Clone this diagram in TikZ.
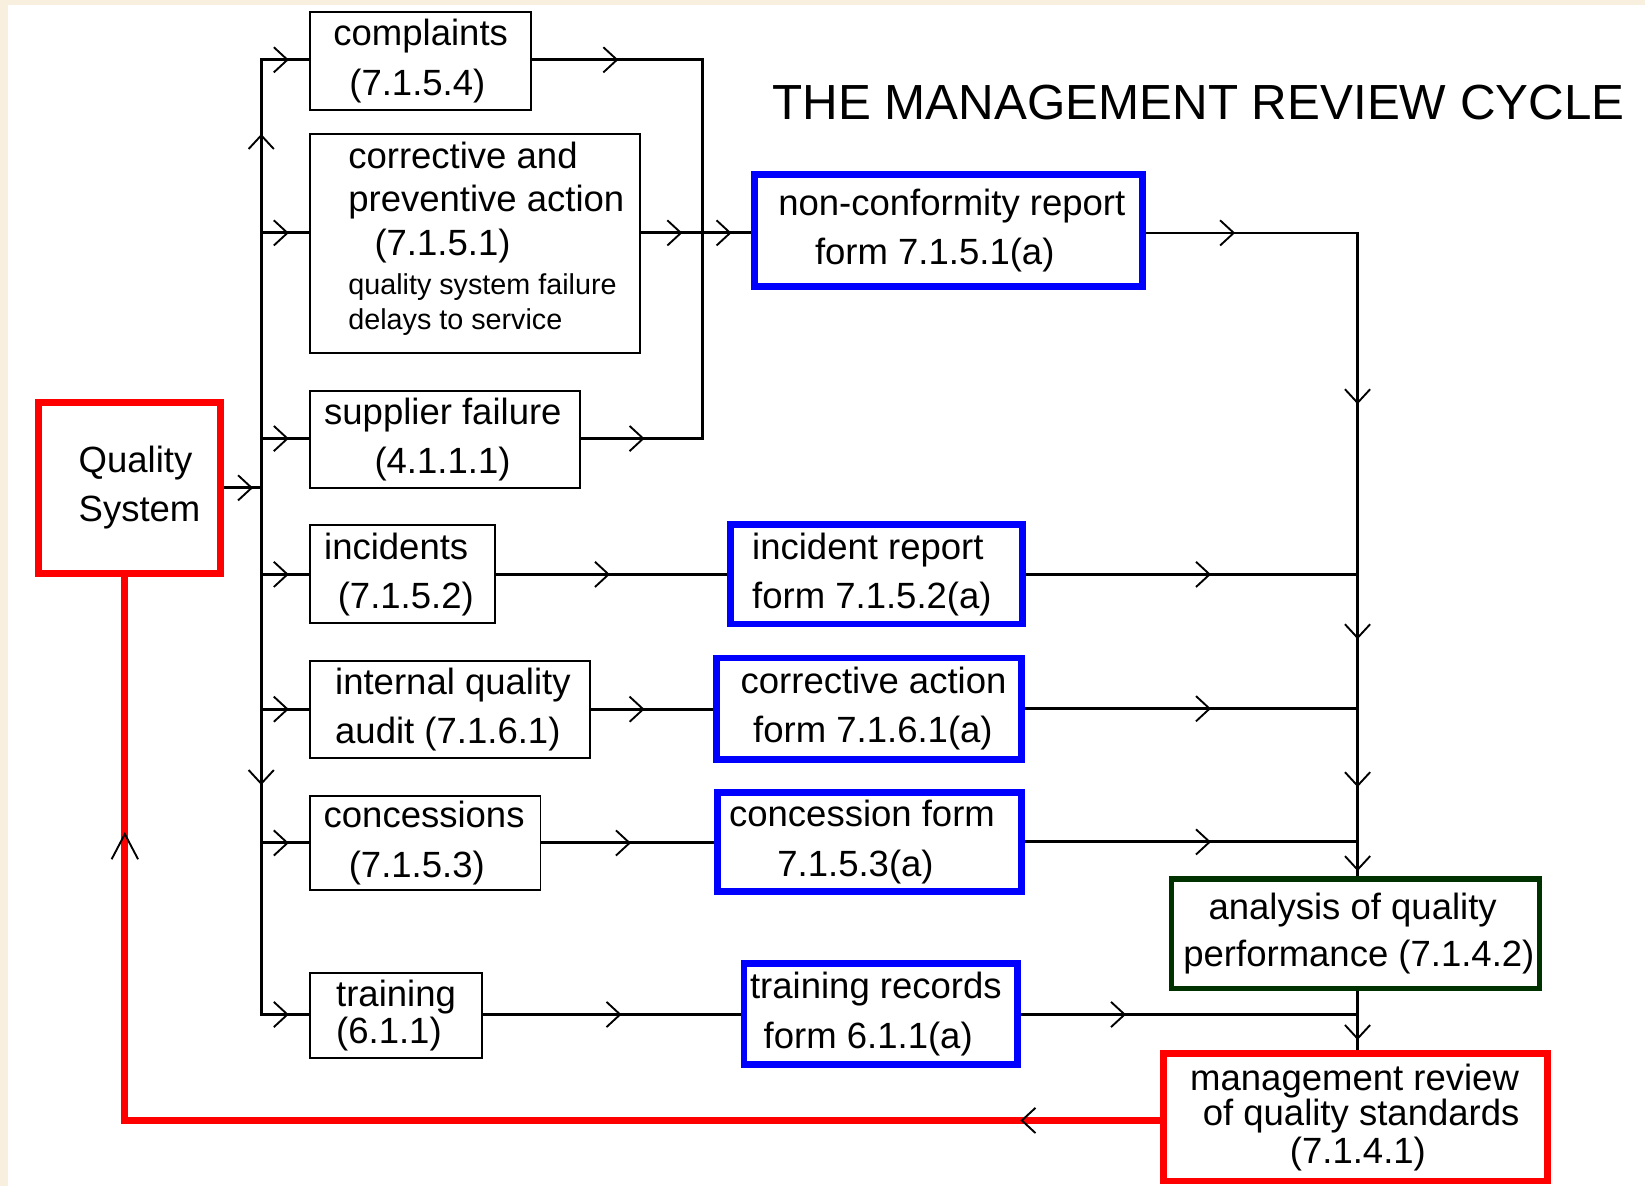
\documentclass[tikz,border=0pt]{standalone}
\usepackage{fontspec}
\setmainfont{Liberation Sans}
\usetikzlibrary{decorations.markings}
\definecolor{cream}{RGB}{248,239,222}
\definecolor{pblue}{RGB}{0,0,255}
\definecolor{pred}{RGB}{255,0,0}
\definecolor{dgreen}{RGB}{0,50,0}
\newcommand\mf{\fontsize{17.4pt}{23.5pt}\selectfont}
\newcommand\sml{\fontsize{13.7pt}{16.5pt}\selectfont}
\newcommand\chv{\draw[black,line width=0.9pt,solid] (-6.5pt,6pt) -- (0pt,0pt) -- (-6.5pt,-6pt);}
\newcommand\chvL{\draw[black,line width=0.9pt,solid] (-12pt,6.3pt) -- (0pt,0pt) -- (-12pt,-6.3pt);}
\tikzset{
 tbox/.style={draw=black, line width=0.9pt, inner sep=0pt, align=left, font=\mf, fill=white},
 bbox/.style={tbox, draw=pblue, line width=3.2pt},
 rbox/.style={tbox, draw=pred, line width=3.4pt},
 gbox/.style={tbox, draw=dgreen, line width=2.7pt},
 conn/.style={draw=black, line width=1.45pt},
 rconn/.style={draw=pred, line width=3.2pt},
 mk/.style={postaction={decorate,decoration={markings,#1}}},
}
\begin{document}
\begin{tikzpicture}[x=0.5pt,y=-0.5pt]
\useasboundingbox (0,0) rectangle (1568,1130);
\fill[cream] (0,0) rectangle (1568,1130);
\fill[white] (7.6,4.5) rectangle (1568,1130);

% title
\node[font=\fontsize{23.5pt}{28pt}\selectfont, inner sep=0pt] (title) at (1142.5,97.5) {THE MANAGEMENT REVIEW CYCLE};

% left column
\node[rbox, minimum width=87pt, minimum height=81.5pt] (qs) at (123.5,465)
  {\hspace*{9.5pt}Quality\\\hspace*{9.5pt}System};
\node[tbox, minimum width=105.2pt, minimum height=46.5pt] (cmp) at (401,58.2)
  {complaints\\\hspace*{7.6pt}(7.1.5.4)};
\node[tbox, minimum width=157.2pt, minimum height=104.2pt, font=\fontsize{17.4pt}{20.5pt}\selectfont] (cpa) at (453,232)
  {\hspace*{10.55pt}corrective and\\\hspace*{10.55pt}preventive action\\[0.5pt]\hspace*{23.05pt}(7.1.5.1)\\[-2pt]\hspace*{10.55pt}{\sml quality system failure}\\[-4pt]\hspace*{10.55pt}{\sml delays to service}\rule[-7.4pt]{0pt}{7.4pt}};
\node[tbox, minimum width=128.7pt, minimum height=46.2pt] (sup) at (424.5,419)
  {\hspace*{-2.35pt}supplier failure\\\hspace*{21.65pt}(4.1.1.1)};
\node[tbox, minimum width=88.2pt, minimum height=46.7pt] (inc) at (384,547.5)
  {\hspace*{-3.7pt}incidents\\\hspace*{2.8pt}(7.1.5.2)};
\node[tbox, minimum width=133.2pt, minimum height=46.2pt] (iqa) at (429,676)
  {\hspace*{2.7pt}internal quality\\\hspace*{2.7pt}audit (7.1.6.1)};
\node[tbox, minimum width=109.7pt, minimum height=44.7pt] (con) at (405.5,803.5)
  {\hspace*{-1.25pt}concessions\\\hspace*{10.75pt}(7.1.5.3)};
\node[tbox, minimum width=81.7pt, minimum height=40.2pt, font=\fontsize{17.4pt}{17.5pt}\selectfont] (trn) at (377.5,968)
  {training\\(6.1.1)};

% forms
\node[bbox, minimum width=184.8pt, minimum height=53.3pt] (ncr) at (904,219.5)
  {\hspace*{3.25pt}non-conformity report\\\hspace*{20.75pt}form 7.1.5.1(a)};
\node[bbox, minimum width=139.3pt, minimum height=47.3pt] (irf) at (835.5,547.5)
  {\hspace*{-4.4pt}incident report\\\hspace*{-4.4pt}form 7.1.5.2(a)};
\node[bbox, minimum width=145.3pt, minimum height=48.3pt] (ca) at (828.5,675.5)
  {\hspace*{4.15pt}corrective action\\\hspace*{10.15pt}form 7.1.6.1(a)};
\node[bbox, minimum width=144.8pt, minimum height=47.3pt] (cf) at (829,802.5)
  {\hspace*{-7.35pt}concession form\\\hspace*{15.65pt}7.1.5.3(a)};
\node[bbox, minimum width=130.3pt, minimum height=48.3pt] (tr) at (839.5,966.5)
  {\hspace*{-4.6pt}training records\\\hspace*{1.9pt}form 6.1.1(a)};

% analysis and review
\node[gbox, minimum width=175.3pt, minimum height=52.3pt, font=\fontsize{17.4pt}{22.5pt}\selectfont] (ana) at (1292,890)
  {\hspace*{15.3pt}analysis of quality\\\hspace*{3.3pt}performance (7.1.4.2)};
\node[rbox, minimum width=182.7pt, minimum height=60.7pt, line width=3.3pt, font=\fontsize{17.4pt}{17pt}\selectfont] (mgmt) at (1292,1065)
  {\hspace*{-0.6pt}management review\\\hspace*{5.4pt}of quality standards\\[0.8pt]\hspace*{46.9pt}(7.1.4.1)};

% junction coordinates
\coordinate (bus) at (249,465);
\coordinate (bt) at (249,57);
\coordinate (bb) at (249,967);
\coordinate (ct) at (670,57);
\coordinate (cj) at (670,222);
\coordinate (cb) at (670,418);
\coordinate (tt) at (1294,222);
\coordinate (rc) at (119,1068);

% bus
\draw[conn, mk={mark=at position 13pt with {\chv}}] (qs.east |- bus) -- (bus);
\draw[conn, mk={mark=at position 168pt with {\chv}, mark=at position 216.5pt with {\chv}}] (bus) -- (bt) -- (bt -| cmp.west);
\draw[conn, mk={mark=at position 141pt with {\chv}, mark=at position 263.5pt with {\chv}}] (bus) -- (bb) -- (bb -| trn.west);
\draw[conn, mk={mark=at position 12.5pt with {\chv}}] (bus |- cj) -- (cj -| cpa.west);
\draw[conn, mk={mark=at position 12.5pt with {\chv}}] (bus |- cb) -- (cb -| sup.west);
\draw[conn, mk={mark=at position 12.5pt with {\chv}}] (bus |- inc.west) -- (inc.west);
\draw[conn, mk={mark=at position 12.5pt with {\chv}}] (bus |- iqa.west) -- (iqa.west);
\draw[conn, mk={mark=at position 12.5pt with {\chv}}] (bus |- con.west) -- (con.west);

% collector to non-conformity report
\draw[conn, mk={mark=at position 40.5pt with {\chv}}] (cmp.east |- ct) -- (ct) -- (cj);
\draw[conn, mk={mark=at position 29.5pt with {\chv}}] (sup.east |- cb) -- (cb) -- (cj);
\draw[conn, mk={mark=at position 19pt with {\chv}}] (cpa.east |- cj) -- (cj);
\draw[conn, mk={mark=at position 13pt with {\chv}}] (cj) -- (cj -| ncr.west);

% trunk
\draw[conn, line width=1.25pt, mk={mark=at position 42pt with {\chv}, mark=at position 182pt with {\chv}, mark=at position 294pt with {\chv}, mark=at position 364.5pt with {\chv}, mark=at position 404.5pt with {\chv}}] (ncr.east |- tt) -- (tt) -- (tt |- ana.north);

% rows
\draw[conn, mk={mark=at position 53.5pt with {\chv}}] (inc.east) -- (inc.east -| irf.west);
\draw[conn, mk={mark=at position 87.5pt with {\chv}}] (irf.east) -- (tt |- irf.east);
\draw[conn, mk={mark=at position 25pt with {\chv}}] (iqa.east) -- (iqa.east -| ca.west);
\draw[conn, mk={mark=at position 88pt with {\chv}}] (ca.east) -- (tt |- ca.east);
\draw[conn, mk={mark=at position 42pt with {\chv}}] (con.east) -- (con.east -| cf.west);
\draw[conn, mk={mark=at position 88pt with {\chv}}] (cf.east) -- (tt |- cf.east);
\draw[conn, mk={mark=at position 65.5pt with {\chv}}] (trn.east |- bb) -- (bb -| tr.west);
\draw[conn, mk={mark=at position 49.5pt with {\chv}}] (tr.east |- bb) -- (tt |- bb);
\draw[conn, line width=1.25pt, mk={mark=at position 22.5pt with {\chv}}] (tt |- ana.south) -- (tt |- mgmt.north);

% feedback loop
\draw[rconn, mk={mark=at position 66pt with {\chv}, mark=at position 630pt with {\chvL}}] (mgmt.west |- rc) -- (rc) -- (rc |- qs.south);
\end{tikzpicture}
\end{document}
